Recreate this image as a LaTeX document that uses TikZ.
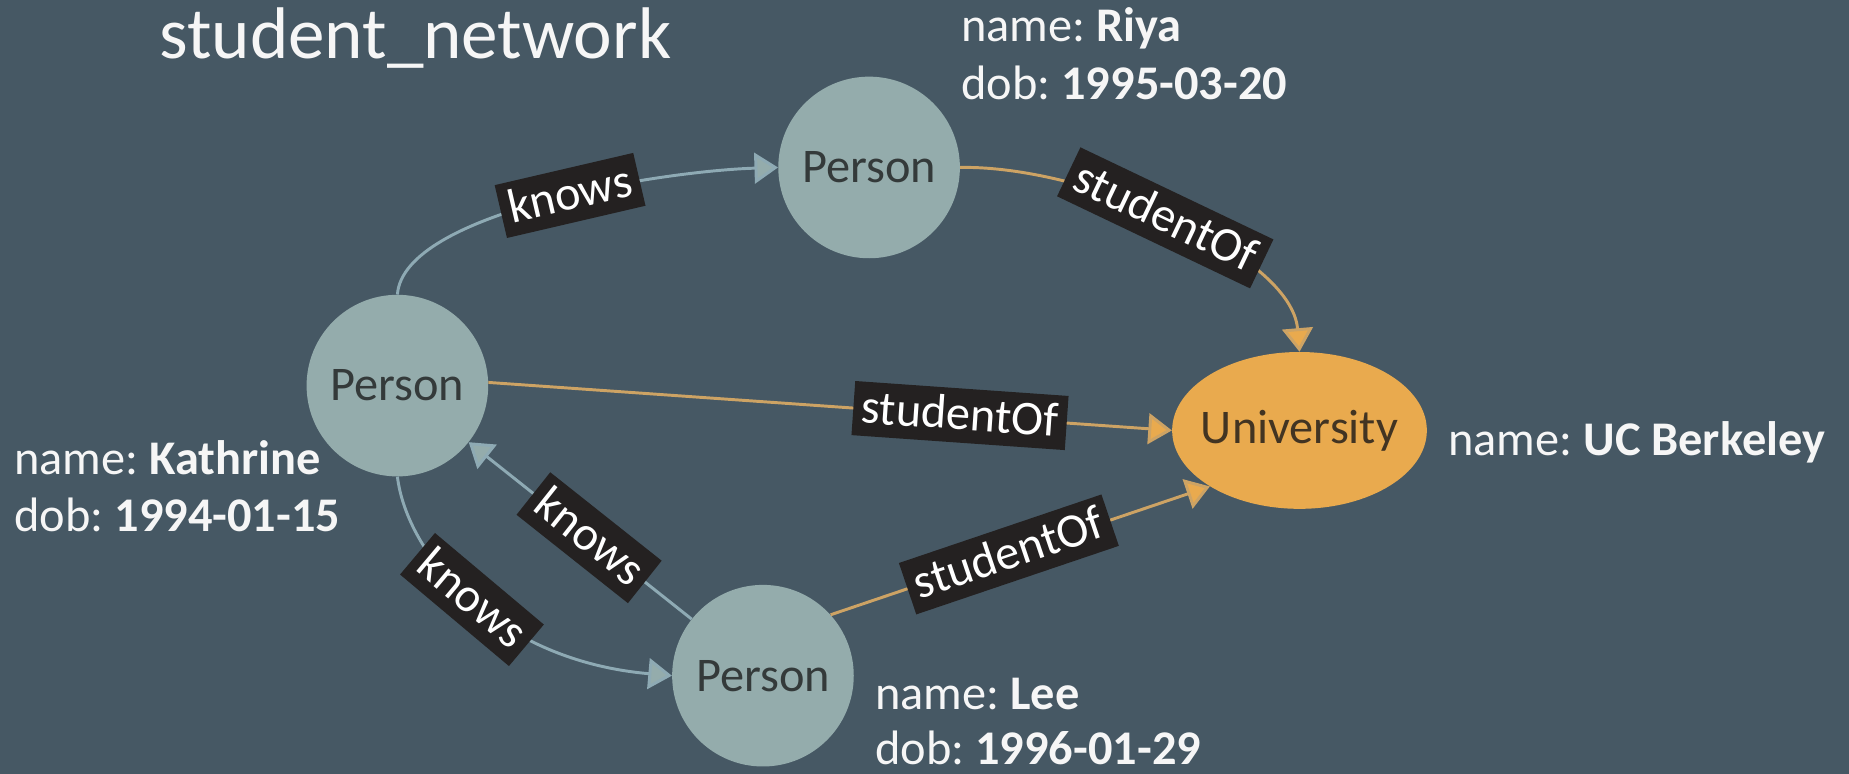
\documentclass[tikz,border=0pt]{standalone}
\usepackage{fontspec}
\setmainfont{Carlito}
\usetikzlibrary{arrows.meta,shapes.geometric}

\definecolor{bgc}{RGB}{70,88,100}
\definecolor{personc}{RGB}{148,172,172}
\definecolor{unic}{RGB}{233,170,78}
\definecolor{knowc}{RGB}{142,170,180}
\definecolor{studc}{RGB}{205,163,100}
\definecolor{tagc}{RGB}{36,33,33}
\definecolor{inkc}{RGB}{52,58,58}
\definecolor{unink}{RGB}{66,52,34}
\definecolor{propc}{RGB}{246,246,246}

\begin{document}
\frenchspacing
\begin{tikzpicture}[x=1pt,y=-1pt,
  basefont/.style={font=\fontsize{41}{49}\selectfont},
  person/.style={circle, fill=personc, minimum size=154pt, inner sep=0pt,
    basefont, text=inkc},
  uni/.style={ellipse, fill=unic, minimum width=216pt, minimum height=133pt,
    inner sep=0pt, basefont, text=unink},
  prop/.style={anchor=base west, inner sep=0pt, basefont, text=propc},
  tag/.style={fill=tagc, text=white, basefont, inner xsep=7pt, inner ysep=4pt,
    text height=31pt, text depth=7pt, sloped},
  knowsedge/.style={draw=knowc, line width=2.5pt,
    -{Triangle[length=20pt,width=26pt,fill=personc]}},
  studedge/.style={draw=studc, line width=2.5pt,
    -{Triangle[length=20pt,width=26pt,fill=unic]}},
  ]
  % canvas
  \fill[bgc] (0,0) rectangle (1568,656);
  \useasboundingbox (0,0) rectangle (1568,656);

  % title
  \node[anchor=base west, inner sep=0pt, text=propc,
    font=\fontsize{62}{74}\selectfont] (title) at (135,50) {student\_network};

  % vertices
  \node[person] (riya) at (737,142) {Person};
  \node[person] (kath) at (337,327) {Person};
  \node[person] (lee)  at (647,573) {Person};
  % narrow box so the ellipse keeps its own size
  \node[uni]    (ucb)  at (1102,365) {\makebox[110pt]{University}};

  % properties
  \node[prop] (riyaname) at (815,35)  {name: \textbf{Riya}};
  \node[prop] (riyadob)  at (815,84)  {dob: \textbf{1995-03-20}};
  \node[prop] (kathname) at (12,402)  {name: \textbf{Kathrine}};
  \node[prop] (kathdob)  at (12,451)  {dob: \textbf{1994-01-15}};
  \node[prop] (leename)  at (742,602) {name: \textbf{Lee}};
  \node[prop] (leedob)   at (742,648) {dob: \textbf{1996-01-29}};
  \node[prop] (ucbname)  at (1228,386) {name: \textbf{UC Berkeley}};

  % relationships
  \draw[knowsedge] (kath.north) .. controls (342,180) and (560,145) ..
    node[tag,pos=0.55] {knows} (riya.west);
  \draw[studedge] (riya.east) .. controls (920,140) and (1095,215) ..
    node[tag,pos=0.48] {studentOf} (ucb.north);
  \draw[studedge] (kath.2) -- node[tag,pos=0.69] {studentOf} (ucb.west);
  \draw[knowsedge] (lee) -- node[tag,pos=0.46] {knows} (kath);
  \draw[knowsedge] (kath.south) .. controls (345,470) and (420,560) ..
    node[tag,pos=0.5] {knows} (lee.west);
  \draw[studedge] (lee.42) -- node[tag,pos=0.47] {studentOf} (ucb.212);
\end{tikzpicture}
\end{document}
